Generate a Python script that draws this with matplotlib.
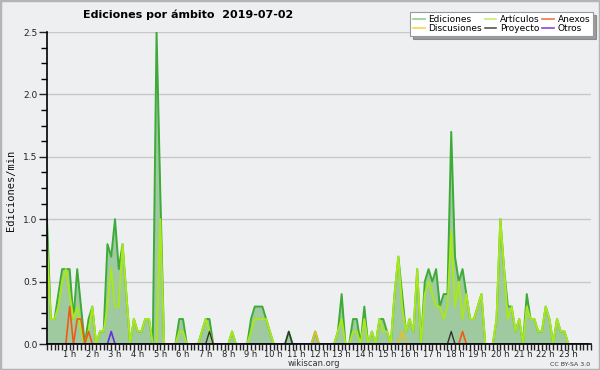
import numpy as np
import matplotlib
matplotlib.use('Agg')
import matplotlib.pyplot as plt
from matplotlib.lines import Line2D
from matplotlib.patches import Rectangle
from matplotlib.ticker import MultipleLocator

# edits per minute, one value per 10-minute slot (6 per hour)
ediciones = [
    1.0, 0.2, 0.2, 0.4, 0.6, 0.6,
    0.6, 0.2, 0.6, 0.3, 0.0, 0.2,
    0.3, 0.0, 0.1, 0.1, 0.8, 0.7,
    1.0, 0.6, 0.8, 0.4, 0.0, 0.2,
    0.1, 0.1, 0.2, 0.2, 0.0, 2.5,
    1.2, 0.0, 0.0, 0.0, 0.0, 0.2,
    0.2, 0.0, 0.0, 0.0, 0.0, 0.1,
    0.2, 0.2, 0.0, 0.0, 0.0, 0.0,
    0.0, 0.1, 0.0, 0.0, 0.0, 0.0,
    0.2, 0.3, 0.3, 0.3, 0.2, 0.1,
    0.0, 0.0, 0.0, 0.0, 0.1, 0.0,
    0.0, 0.0, 0.0, 0.0, 0.0, 0.1,
    0.0, 0.0, 0.0, 0.0, 0.0, 0.1,
    0.4, 0.0, 0.0, 0.2, 0.2, 0.0,
    0.3, 0.0, 0.1, 0.0, 0.2, 0.2,
    0.1, 0.0, 0.4, 0.7, 0.4, 0.1,
    0.2, 0.1, 0.6, 0.0, 0.5, 0.6,
    0.5, 0.6, 0.3, 0.4, 0.4, 1.7,
    0.7, 0.5, 0.6, 0.4, 0.2, 0.2,
    0.3, 0.4, 0.0, 0.0, 0.0, 0.2,
    1.0, 0.6, 0.3, 0.3, 0.1, 0.2,
    0.0, 0.4, 0.2, 0.2, 0.1, 0.1,
    0.3, 0.2, 0.0, 0.2, 0.1, 0.1,
    0.0, 0.0, 0.0, 0.0, 0.0, 0.0,
]
articulos = [
    0.8, 0.2, 0.2, 0.3, 0.5, 0.6,
    0.4, 0.2, 0.3, 0.1, 0.0, 0.1,
    0.3, 0.0, 0.1, 0.1, 0.3, 0.6,
    0.3, 0.3, 0.8, 0.4, 0.0, 0.2,
    0.1, 0.1, 0.2, 0.2, 0.0, 0.0,
    1.0, 0.0, 0.0, 0.0, 0.0, 0.1,
    0.1, 0.0, 0.0, 0.0, 0.0, 0.1,
    0.2, 0.1, 0.0, 0.0, 0.0, 0.0,
    0.0, 0.1, 0.0, 0.0, 0.0, 0.0,
    0.1, 0.2, 0.2, 0.2, 0.2, 0.1,
    0.0, 0.0, 0.0, 0.0, 0.0, 0.0,
    0.0, 0.0, 0.0, 0.0, 0.0, 0.0,
    0.0, 0.0, 0.0, 0.0, 0.0, 0.1,
    0.2, 0.0, 0.0, 0.1, 0.1, 0.0,
    0.2, 0.0, 0.1, 0.0, 0.2, 0.1,
    0.1, 0.0, 0.4, 0.7, 0.3, 0.1,
    0.2, 0.1, 0.6, 0.0, 0.4, 0.5,
    0.4, 0.3, 0.3, 0.2, 0.3, 0.9,
    0.3, 0.5, 0.2, 0.4, 0.2, 0.2,
    0.3, 0.4, 0.0, 0.0, 0.0, 0.2,
    1.0, 0.6, 0.2, 0.3, 0.1, 0.2,
    0.0, 0.3, 0.2, 0.2, 0.1, 0.1,
    0.3, 0.2, 0.0, 0.2, 0.1, 0.1,
    0.0, 0.0, 0.0, 0.0, 0.0, 0.0,
]
# sparse series: slot -> value, zero elsewhere
anexos_pts = {6: 0.3, 8: 0.2, 9: 0.2, 11: 0.1, 110: 0.1}
discusiones_pts = {71: 0.1, 94: 0.1}
proyecto_pts = {43: 0.1, 64: 0.1, 107: 0.1}
otros_pts = {17: 0.1}

hour_labels = ['%d h' % h for h in range(1, 24)]

n = len(ediciones)
x = np.arange(n)


def sparse(pts):
    s = np.zeros(n)
    for k, v in pts.items():
        s[k] = v
    return s


anexos = sparse(anexos_pts)
discusiones = sparse(discusiones_pts)
proyecto = sparse(proyecto_pts)
otros = sparse(otros_pts)

bg = '#eeeff1'
c_edi = '#3dab38'
c_art = '#a8e81c'
c_anx = '#f05a14'
c_dis = '#e8c020'
c_pro = '#333333'
c_otr = '#6a2ae8'

fig = plt.figure(figsize=(6, 3.7), dpi=100, facecolor=bg)
ax = fig.add_axes([47 / 600, 26 / 370, 544 / 600, 312 / 370])
ax.set_facecolor(bg)

ax.fill_between(x, ediciones, color='#9fc99f', lw=0, zorder=1)
ax.plot(x, ediciones, color=c_edi, lw=1.4, zorder=3)
ax.plot(x, articulos, color=c_art, lw=1.4, zorder=3)
ax.plot(x, discusiones, color=c_dis, lw=1.2, zorder=3)
ax.plot(x, anexos, color=c_anx, lw=1.2, zorder=3)
ax.plot(x, proyecto, color=c_pro, lw=1.0, zorder=3)
ax.plot(x, otros, color=c_otr, lw=1.2, zorder=3)

ax.set_xlim(0, 144)
ax.set_ylim(0, 2.5)
ax.set_xticks(np.arange(6, 144, 6))
ax.set_xticklabels(hour_labels)
ax.xaxis.set_minor_locator(MultipleLocator(1))
ax.set_yticks([0, 0.5, 1.0, 1.5, 2.0, 2.5])
ax.set_yticklabels(['0.0', '0.5', '1.0', '1.5', '2.0', '2.5'])
ax.yaxis.set_minor_locator(MultipleLocator(0.125))
ax.tick_params(axis='x', which='both', length=4, width=1, direction='out',
               labelsize=6, colors='#222', pad=0.5)
ax.tick_params(axis='y', which='major', length=6, width=1, labelsize=6.5, colors='#222', pad=1)
ax.tick_params(axis='y', which='minor', length=4, width=1)
ax.grid(axis='y', which='major', color='#c8c8c8', lw=1)
ax.set_axisbelow(True)
for s in ['top', 'right']:
    ax.spines[s].set_visible(False)
for s in ['left', 'bottom']:
    ax.spines[s].set_linewidth(1.2)
    ax.spines[s].set_zorder(5)

fig.text(11 / 600, 1 - 190 / 370, 'Ediciones/min', family='DejaVu Sans Mono',
         fontsize=7.5, rotation=90, ha='center', va='center', color='#111')

fig.text(188 / 600, 1 - 15 / 370, 'Ediciones por ámbito  2019-07-02',
         ha='center', va='center', fontsize=8, weight='bold')
fig.text(314 / 600, 1 - 363 / 370, 'wikiscan.org', ha='center', va='center',
         fontsize=6, color='#333')
fig.text(590 / 600, 1 - 364 / 370, 'CC BY-SA 3.0', ha='right', va='center',
         fontsize=4.5, color='#333')

handles = [
    Line2D([], [], color='#8fd08f', lw=1.2),
    Line2D([], [], color='#f5d84a', lw=1.2),
    Line2D([], [], color='#c8ec6a', lw=1.2),
    Line2D([], [], color='#555555', lw=1.2),
    Line2D([], [], color='#f07848', lw=1.2),
    Line2D([], [], color='#8848e8', lw=1.2),
]
labels = ['Ediciones', 'Discusiones', 'Artículos', 'Proyecto', 'Anexos', 'Otros']
leg = ax.legend(handles, labels, ncol=3, loc='upper right',
                bbox_to_anchor=(593 / 600, 1 - 12 / 370), bbox_transform=fig.transFigure,
                fontsize=6.5, frameon=True, fancybox=False, shadow=True,
                edgecolor='#999999', facecolor='white', framealpha=1,
                handlelength=1.3, handletextpad=0.4, columnspacing=0.3,
                labelspacing=0.05, borderpad=0.3, borderaxespad=0)
leg.get_frame().set_linewidth(0.8)

fig.patches.append(Rectangle((0, 0), 1, 1, transform=fig.transFigure, fill=False,
                             edgecolor='#b4b4b4', lw=2.5))

fig.savefig('out.png', dpi=100, facecolor=bg)
